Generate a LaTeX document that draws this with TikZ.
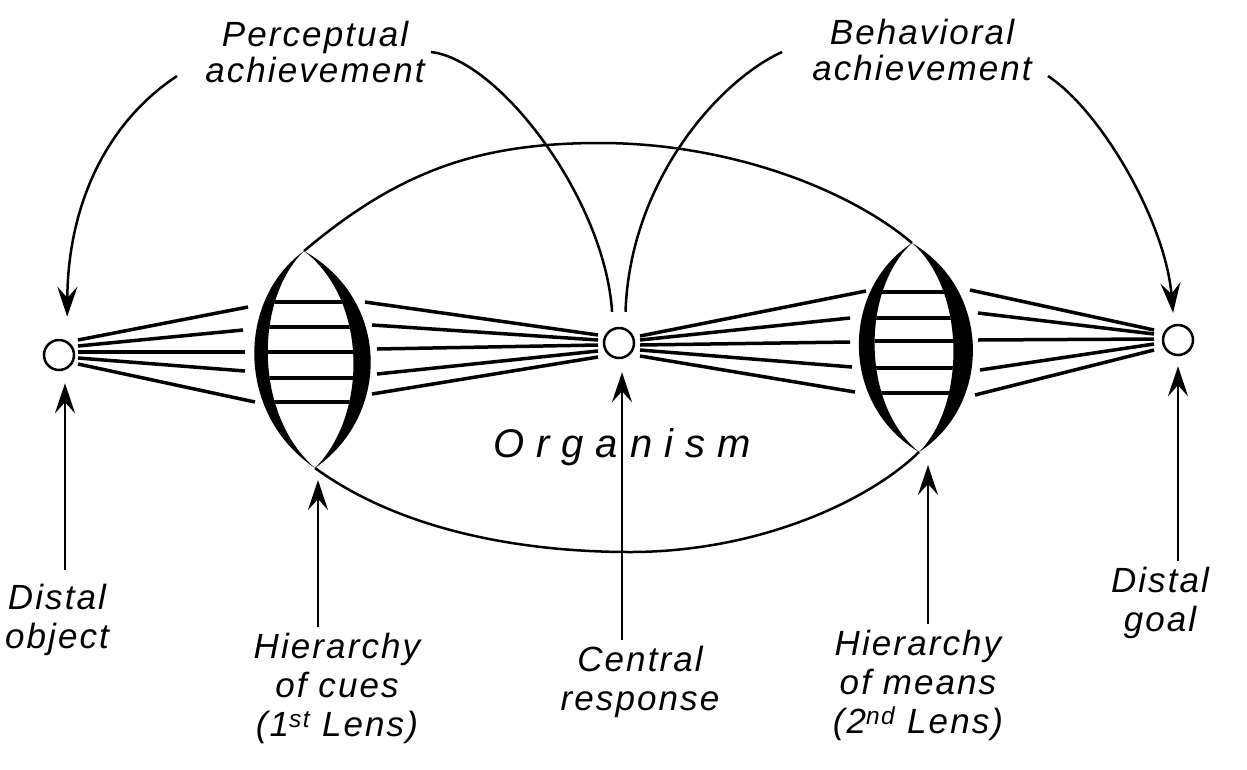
\documentclass[tikz,border=0pt]{standalone}
\usepackage{fontspec}
\newfontfamily\handfont{Liberation Sans}[LetterSpace=6]
\newfontfamily\orgfont{Liberation Sans}[LetterSpace=30]
\usepackage{tikz}
\usetikzlibrary{arrows.meta}
\usetikzlibrary{positioning}

\begin{document}
\begin{tikzpicture}[x=1pt,y=-1pt,
  lbl/.style={font=\handfont\itshape\fontsize{35}{39}\selectfont,align=center,inner sep=2pt},
  dot/.style={circle,draw,line width=2.5pt,minimum size=30pt,inner sep=0pt},
  wire/.style={line width=2.5pt},
  ray/.style={line width=3.5pt},
  arr/.style={->,line width=2.5pt},
]
\tikzset{>={Stealth[length=30pt,width=20pt,inset=11pt]}}
\useasboundingbox (0,0) rectangle (1247,769);
\node[dot](obj) at(59,355){}; \node[dot](resp) at(619,343){}; \node[dot](goal) at(1178,340){};
\coordinate(cuestop) at(304,251); \coordinate(cuesbot) at(315,468);
\coordinate(meanstop) at(912,243); \coordinate(meansbot) at(919,452);
\draw[wire](cuestop) .. controls (400,170) and (480,143) .. (600,143) .. controls (730,143) and (850,190) .. (meanstop);
\draw[wire](cuesbot) .. controls (400,530) and (520,552) .. (630,552) .. controls (760,552) and (870,500) .. (meansbot);
\fill(cuestop) .. controls (236,300) and (236,415) .. (cuesbot) .. controls (254,415) and (254,300) .. (cuestop);
\fill(cuestop) .. controls (391,300) and (391,415) .. (cuesbot) .. controls (368,415) and (368,300) .. (cuestop);
\fill(meanstop) .. controls (840,290) and (840,405) .. (meansbot) .. controls (861,405) and (861,290) .. (meanstop);
\fill(meanstop) .. controls (992,290) and (992,405) .. (meansbot) .. controls (966,405) and (966,290) .. (meanstop);
\begin{scope}
\clip(cuestop) .. controls (254,300) and (254,415) .. (cuesbot) .. controls (368,415) and (368,300) .. (cuestop);
\foreach \y in {302,327,352,378,402} \draw[ray](240,\y) -- (390,\y);
\end{scope}
\begin{scope}
\clip(meanstop) .. controls (861,290) and (861,405) .. (meansbot) .. controls (966,405) and (966,290) .. (meanstop);
\foreach \y in {292,318,341,368,393} \draw[ray](840,\y) -- (990,\y);
\end{scope}
\foreach \a/\bx/\by in {340/248/307,346/243/330,352/245/352,358/245/371,364/255/402}
  \draw[ray](78,\a) -- (\bx,\by);
\foreach \ax/\ay/\b in {365/302/335,372/325/340,377/349/345,377/374/351,372/394/357}
  \draw[ray](\ax,\ay) -- (598,\b);
\foreach \a/\bx/\by in {336/866/291,340/850/318,345/850/342,350/852/367,356/855/392}
  \draw[ray](640,\a) -- (\bx,\by);
\foreach \ax/\ay/\b in {970/290/330,978/313/334,978/340/339,980/370/344,975/395/350}
  \draw[ray](\ax,\ay) -- (1154,\b);
\node[lbl](perclbl) at(315,52){Perceptual\\[-3pt]achievement};
\node[lbl](behavlbl) at(922,50){Behavioral\\[-3pt]achievement};
\node[lbl,font=\orgfont\itshape\fontsize{40}{44}\selectfont](org) at(622,447){Organism};
\node[lbl](objlbl) at(57,620){Distal\\object};
\node[lbl](cueslbl) at(337,688){Hierarchy\\of cues\\(1\textsuperscript{st} Lens)};
\node[lbl](resplbl) at(640,682){Central\\response};
\node[lbl](meanslbl) at(918,685){Hierarchy\\of means\\(2\textsuperscript{nd} Lens)};
\node[lbl](goallbl) at(1160,603){Distal\\goal};
\draw[wire,shorten >=15pt]([xshift=4pt]perclbl.east) .. controls (500,60) and (605,200) .. ([xshift=-6pt]resp.north);
\draw[wire,shorten >=15pt]([xshift=-28pt,yshift=-2pt]behavlbl.west) .. controls (720,80) and (630,180) .. ([xshift=6pt]resp.north);
\draw[arr,shorten >=22pt]([xshift=-26pt,yshift=-24pt]perclbl.west) .. controls (110,120) and (68,200) .. ([xshift=8pt]obj.north);
\draw[arr,shorten >=11pt]([xshift=14pt,yshift=-26pt]behavlbl.east) .. controls (1100,110) and (1165,220) .. ([xshift=-4pt]goal.north);
\draw[arr,shorten <=12pt,shorten >=12pt]([xshift=6pt]obj |- objlbl.north) -- ([xshift=6pt]obj.south);
\draw[arr,shorten <=4pt,shorten >=12pt]([xshift=3pt]cuesbot |- cueslbl.north) -- ([xshift=3pt]cuesbot);
\draw[arr,shorten <=4pt,shorten >=13pt]([xshift=3pt]resp |- resplbl.north) -- ([xshift=3pt]resp.south);
\draw[arr,shorten <=4pt,shorten >=13pt]([xshift=9pt]meansbot |- meanslbl.north) -- ([xshift=9pt]meansbot);
\draw[arr,shorten <=4pt,shorten >=10pt](goal |- goallbl.north) -- (goal.south);
\end{tikzpicture}
\end{document}
